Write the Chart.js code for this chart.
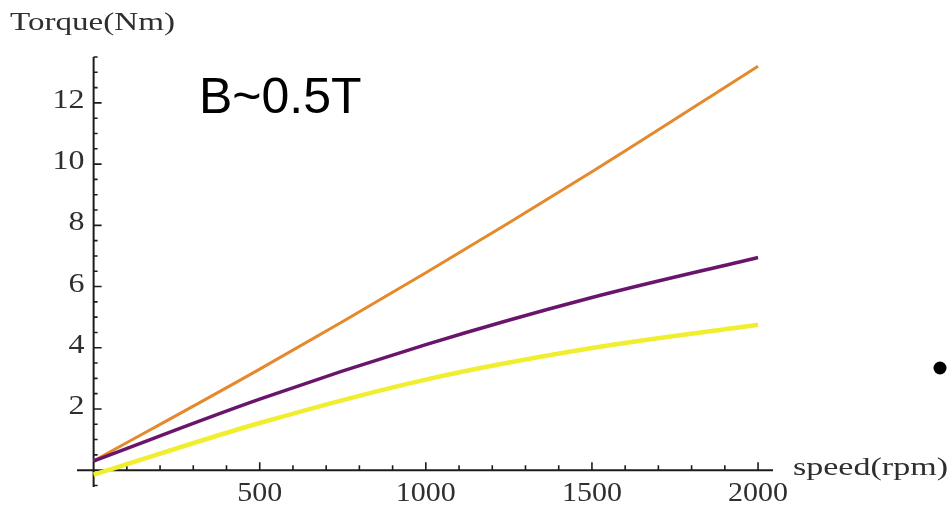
<!DOCTYPE html>
<html>
<head>
<meta charset="utf-8">
<script src="https://cdn.jsdelivr.net/npm/chart.js@4"></script>
<style>
  html, body { margin: 0; padding: 0; background: #ffffff; }
  #wrap { position: relative; width: 951px; height: 506px; }
  canvas { display: block; }
</style>
</head>
<body>
<div id="wrap"><canvas id="c" width="951" height="506"></canvas></div>
<script>
// Torque vs. speed, three curves at B~0.5T
const speeds = [0, 500, 1000, 1500, 2000];
const orangeTorque = [0.30, 3.30, 6.45, 9.75, 13.20];
const purpleTorque = [0.30, 2.32, 4.10, 5.64, 6.95];
const yellowTorque = [-0.15, 1.54, 2.96, 3.99, 4.75];

const xTickLabels = [500, 1000, 1500, 2000];
const yTickLabels = [2, 4, 6, 8, 10, 12];
const xMinorStep = 100;
const yMinorStep = 0.5;

const seriesColors = ['#e4892c', '#6a156b', '#f0ee2e'];
const seriesWidths = [3, 3.5, 4.5];

function points(ys) {
  return speeds.map((s, i) => ({ x: s, y: ys[i] }));
}

// Serif text stretched horizontally to a given width
function stretchedText(ctx, text, x, y, size, align, targetWidth) {
  ctx.save();
  ctx.font = size + 'px "Liberation Serif", "Times New Roman", serif';
  const w = ctx.measureText(text).width;
  const sx = targetWidth / w;
  let left = x;
  if (align === 'center') left = x - targetWidth / 2;
  else if (align === 'right') left = x - targetWidth;
  ctx.translate(left, y);
  ctx.scale(sx, 1);
  ctx.textAlign = 'left';
  ctx.textBaseline = 'middle';
  ctx.fillText(text, 0, 0);
  ctx.restore();
}

const axesPlugin = {
  id: 'mathAxes',
  beforeDatasetsDraw(chart) {
    const ctx = chart.ctx;
    const xs = chart.scales.x, ys = chart.scales.y;
    const x0 = xs.getPixelForValue(0), y0 = ys.getPixelForValue(0);
    ctx.save();
    ctx.strokeStyle = '#1c1c1c';
    ctx.lineWidth = 2;
    ctx.beginPath();
    ctx.moveTo(xs.left, y0); ctx.lineTo(xs.right, y0);
    ctx.moveTo(x0, ys.top); ctx.lineTo(x0, ys.bottom);
    ctx.stroke();

    ctx.lineWidth = 1.6;
    ctx.beginPath();
    for (let v = xMinorStep; v <= xTickLabels[xTickLabels.length - 1]; v += xMinorStep) {
      const px = xs.getPixelForValue(v);
      const len = (v % 500 === 0) ? 8 : 5;
      ctx.moveTo(px, y0); ctx.lineTo(px, y0 - len);
    }
    for (let v = -yMinorStep; v <= ys.max + 1e-9; v += yMinorStep) {
      if (Math.abs(v) < 1e-9) continue;
      const py = ys.getPixelForValue(v);
      const len = (Math.abs(v % 2) < 1e-9) ? 8 : 4;
      ctx.moveTo(x0, py); ctx.lineTo(x0 + len, py);
    }
    ctx.stroke();

    ctx.fillStyle = '#2f2f2f';
    xTickLabels.forEach(v => {
      const s = String(v);
      stretchedText(ctx, s, xs.getPixelForValue(v), 494, 27, 'center', 15 * s.length);
    });
    yTickLabels.forEach(v => {
      const s = String(v);
      stretchedText(ctx, s, x0 - 9, ys.getPixelForValue(v) - 2, 27, 'right', 16 * s.length);
    });

    // axis titles
    stretchedText(ctx, 'Torque(Nm)', 10, 23, 25, 'left', 165);
    stretchedText(ctx, 'speed(rpm)', 793, 468, 25, 'left', 155);
    ctx.restore();
  },
  afterDraw(chart) {
    const ctx = chart.ctx;
    ctx.save();
    ctx.fillStyle = '#000000';
    ctx.font = '50px "Liberation Sans", Arial, sans-serif';
    ctx.textBaseline = 'alphabetic';
    ctx.textAlign = 'left';
    ctx.fillText('B~0.5T', 199, 113);
    ctx.beginPath();
    ctx.arc(940, 368, 6.5, 0, Math.PI * 2);
    ctx.fill();
    ctx.restore();
  }
};

new Chart(document.getElementById('c'), {
  type: 'line',
  data: {
    datasets: [
      { label: 'orange', data: points(orangeTorque) },
      { label: 'purple', data: points(purpleTorque) },
      { label: 'yellow', data: points(yellowTorque) }
    ].map((d, i) => Object.assign(d, {
      borderColor: seriesColors[i],
      borderWidth: seriesWidths[i],
      pointRadius: 0,
      cubicInterpolationMode: 'monotone',
      fill: false,
      clip: false
    })).reverse()
  },
  options: {
    responsive: false,
    animation: false,
    layout: { padding: { left: 77, right: 178, top: 57, bottom: 19 } },
    plugins: { legend: { display: false }, tooltip: { enabled: false } },
    scales: {
      x: { type: 'linear', min: -50, max: 2045, display: false },
      y: { type: 'linear', min: -0.55, max: 13.5, display: false }
    }
  },
  plugins: [axesPlugin]
});
</script>
</body>
</html>
